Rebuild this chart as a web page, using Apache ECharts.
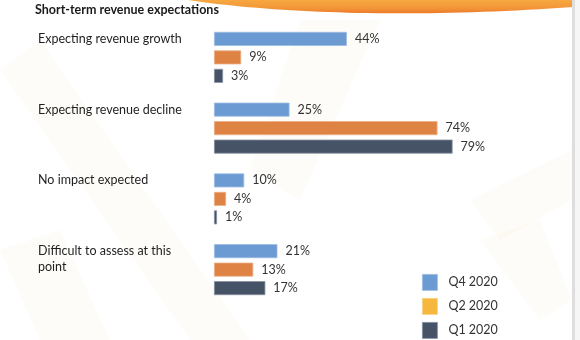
<!DOCTYPE html>
<html>
<head>
<meta charset="utf-8">
<script src="https://cdn.jsdelivr.net/npm/echarts@6/dist/echarts.min.js"></script>
<style>
  html, body { margin: 0; padding: 0; background: #ffffff; }
  #chart { width: 580px; height: 340px; }
</style>
</head>
<body>
<div id="chart"></div>
<script>
// Survey answers, percentage of respondents per period
const categories = [
  'Expecting revenue growth',
  'Expecting revenue decline',
  'No impact expected',
  'Difficult to assess at this point'
];
const seriesNames = ['Q4 2020', 'Q2 2020', 'Q1 2020'];
const q4_2020 = [44, 25, 10, 21];
const q2_2020 = [9, 74, 4, 13];
const q1_2020 = [3, 79, 1, 17];

const FONT = 'Lato, "Open Sans", sans-serif';
const barColors = ['#6b9bd2', '#df8344', '#465366'];
const barBorders = ['#9dbde3', '#ecae84', '#8791a0'];
const legendColors = ['#6b9bd2', '#f5b73e', '#465366'];
const legendBorders = ['#9dbde3', '#f8cf80', '#8791a0'];

// sampled cubic curve for the decorative swoosh at the top edge
function swooshPoints() {
  const p0 = [188, 0], p1 = [280, 14], p2 = [420, 18], p3 = [573, 7];
  const pts = [];
  for (let k = 0; k <= 40; k++) {
    const t = k / 40, u = 1 - t;
    pts.push([
      u * u * u * p0[0] + 3 * u * u * t * p1[0] + 3 * u * t * t * p2[0] + t * t * t * p3[0],
      u * u * u * p0[1] + 3 * u * u * t * p1[1] + 3 * u * t * t * p2[1] + t * t * t * p3[1]
    ]);
  }
  pts.push([573, 0]);
  return pts;
}

const chart = echarts.init(document.getElementById('chart'), null, { renderer: 'canvas' });

function makeSeries(name, values, i) {
  return {
    name: name,
    type: 'bar',
    data: values,
    barWidth: 14,
    barGap: '32%',
    itemStyle: { color: barColors[i], borderColor: barBorders[i], borderWidth: 0.8 },
    label: {
      show: true,
      position: 'right',
      distance: 8,
      formatter: '{c}%',
      fontFamily: FONT,
      fontSize: 12.5,
      color: '#333333'
    },
    emphasis: { disabled: true },
    animation: false
  };
}

// category names sit beside the top bar of each group: a spacer line
// below the text lifts it above the band centre
function categoryLabel(v) {
  if (v.length > 26) {
    const cut = v.lastIndexOf(' ');
    return '{t|' + v.slice(0, cut) + '}\n{t|' + v.slice(cut + 1) + '}\n{s2| }';
  }
  return '{t|' + v + '}\n{s1| }';
}

// one legend block per period, stacked down the lower right
function legendBlock(i) {
  return {
    left: 422,
    top: 274 + i * 24,
    padding: 0,
    itemWidth: 15,
    itemHeight: 16,
    icon: 'rect',
    selectedMode: false,
    textStyle: { fontFamily: FONT, fontSize: 12.5, color: '#333333', padding: [0, 0, 0, 6] },
    data: [{
      name: seriesNames[i],
      itemStyle: { color: legendColors[i], borderColor: legendBorders[i], borderWidth: 0.8 }
    }]
  };
}

const wm = 'rgba(246, 214, 160, 0.07)';

chart.setOption({
  backgroundColor: '#ffffff',
  animation: false,
  title: {
    text: 'Short-term revenue expectations',
    left: 30,
    top: 0,
    padding: [3, 5],
    textStyle: { fontFamily: FONT, fontSize: 12.5, fontWeight: 'bold', color: '#1a1a1a' }
  },
  graphic: [
    // faint watermark strokes in the backdrop
    { type: 'polygon', silent: true, z: -10,
      shape: { points: [[0, 70], [40, 40], [250, 340], [190, 340]] },
      style: { fill: wm } },
    { type: 'polygon', silent: true, z: -10,
      shape: { points: [[300, 20], [380, 20], [300, 200], [250, 170]] },
      style: { fill: wm } },
    { type: 'polygon', silent: true, z: -10,
      shape: { points: [[470, 200], [572, 150], [572, 200], [500, 240]] },
      style: { fill: wm } },
    { type: 'polygon', silent: true, z: -10,
      shape: { points: [[480, 240], [540, 220], [572, 300], [540, 320]] },
      style: { fill: wm } },
    { type: 'polygon', silent: true, z: -10,
      shape: { points: [[0, 250], [60, 230], [110, 340], [40, 340]] },
      style: { fill: wm } },
    // orange swoosh along the top edge
    { type: 'polygon', silent: true, z: 5,
      shape: { points: swooshPoints() },
      style: {
        fill: new echarts.graphic.LinearGradient(0, 0, 0, 1, [
          { offset: 0, color: '#f7a840' },
          { offset: 0.6, color: '#f29638' },
          { offset: 1, color: '#ec7a2a' }
        ])
      } },
    // right page edge
    { type: 'rect', silent: true, z: 5,
      shape: { x: 572, y: 0, width: 3, height: 340 },
      style: { fill: '#dedede' } },
    { type: 'rect', silent: true, z: 5,
      shape: { x: 575, y: 0, width: 5, height: 340 },
      style: { fill: '#f6f6f6' } }
  ],
  legend: [legendBlock(0), legendBlock(1), legendBlock(2)],
  grid: { left: 214, top: 22, width: 302, height: 283, containLabel: false },
  xAxis: {
    type: 'value',
    min: 0,
    max: 100,
    show: false
  },
  yAxis: {
    type: 'category',
    data: categories,
    inverse: true,
    axisLine: { show: false },
    axisTick: { show: false },
    splitLine: { show: false },
    axisLabel: {
      align: 'left',
      margin: 176,
      verticalAlign: 'middle',
      formatter: categoryLabel,
      rich: {
        t: { fontFamily: FONT, fontSize: 12.5, color: '#1f1f1f', lineHeight: 16, align: 'left' },
        s1: { fontSize: 1, lineHeight: 37 },
        s2: { fontSize: 1, lineHeight: 21 }
      }
    }
  },
  series: [
    makeSeries(seriesNames[0], q4_2020, 0),
    makeSeries(seriesNames[1], q2_2020, 1),
    makeSeries(seriesNames[2], q1_2020, 2)
  ]
});
</script>
</body>
</html>
